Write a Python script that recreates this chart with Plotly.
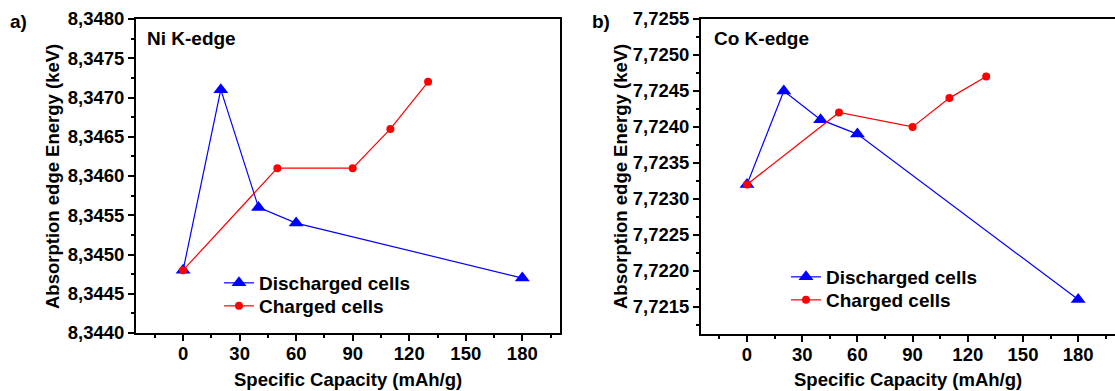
import plotly.graph_objects as go

# Data
discharged_x = [0, 20, 40, 60, 180]
charged_x = [0, 50, 90, 110, 130]

ni_discharged = [8.3448, 8.3471, 8.3456, 8.3454, 8.3447]
ni_charged = [8.3448, 8.3461, 8.3461, 8.3466, 8.3472]

co_discharged = [7.7232, 7.7245, 7.7241, 7.7239, 7.7216]
co_charged = [7.7232, 7.7242, 7.7240, 7.7244, 7.7247]

x_ticks = [0, 30, 60, 90, 120, 150, 180]

BLUE = "#0000FF"
RED = "#FF0000"
FONT = "Liberation Sans"
W, H = 1115, 391

fig = go.Figure()

def add_pair(yd, yc, xa, ya, leg_d, leg_c):
    fig.add_trace(go.Scatter(
        x=discharged_x, y=yd, mode="lines+markers", name="Discharged cells",
        line=dict(color=BLUE, width=1.2),
        marker=dict(symbol="triangle-up", size=13, color=BLUE),
        xaxis=xa, yaxis=ya, legend=leg_d, showlegend=True))
    fig.add_trace(go.Scatter(
        x=charged_x, y=yc, mode="lines+markers", name="Charged cells",
        line=dict(color=RED, width=1.2),
        marker=dict(symbol="circle", size=8, color=RED),
        xaxis=xa, yaxis=ya, legend=leg_c, showlegend=True))

add_pair(ni_discharged, ni_charged, "x", "y", "legend", "legend2")
add_pair(co_discharged, co_charged, "x2", "y2", "legend3", "legend4")

tickfont = dict(family=FONT, size=18.5, color="black", weight="bold")

def xaxis(domain, anchor):
    return dict(domain=domain, anchor=anchor, range=[-25, 200],
                tickmode="array", tickvals=x_ticks, automargin=False,
                ticks="outside", ticklen=6, tickwidth=2, tickcolor="black",
                ticklabelstandoff=-3,
                minor=dict(dtick=15, tick0=15, ticks="outside", ticklen=3,
                           tickwidth=2, tickcolor="black"),
                showline=True, linewidth=2, linecolor="black", mirror=True,
                showgrid=False, zeroline=False, tickfont=tickfont)

def yaxis(domain, anchor, rng, tick0, mirror=True):
    return dict(domain=domain, anchor=anchor, range=rng, automargin=False,
                tick0=tick0, dtick=0.0005, tickformat=".4f",
                ticks="outside", ticklen=6, tickwidth=2, tickcolor="black",
                minor=dict(dtick=0.00025, ticks="outside", ticklen=3,
                           tickwidth=2, tickcolor="black"),
                showline=True, linewidth=2, linecolor="black", mirror=mirror,
                showgrid=False, zeroline=False, tickfont=tickfont)

ydom = [(H - 333) / H, (H - 19) / H]
ydom2 = [(H - 334) / H, (H - 19) / H]

legfont = dict(family=FONT, size=19, color="black", weight="bold")

def leg(x, y):
    return dict(x=(x - 5) / W, y=(H - y) / H, xanchor="left", yanchor="middle",
                bgcolor="rgba(0,0,0,0)", font=legfont, itemwidth=30,
                borderwidth=0, visible=True)

fig.update_layout(
    width=W, height=H,
    showlegend=True,
    margin=dict(l=0, r=0, t=0, b=0, pad=0, autoexpand=False),
    paper_bgcolor="white", plot_bgcolor="white",
    separators=", ",
    xaxis=xaxis([136 / W, 560 / W], "y"),
    yaxis=yaxis(ydom, "x", [8.3440, 8.3480], 8.3440),
    xaxis2=xaxis([701 / W, 1.0], "y2"),
    yaxis2=yaxis(ydom2, "x2", [7.72112, 7.7255], 7.7215, mirror=False),
    legend=leg(224, 283),
    legend2=leg(224, 306),
    legend3=leg(791, 277),
    legend4=leg(791, 300),
)

def ann(text, x, y, angle=0, size=19):
    fig.add_annotation(text=text, x=x / W, y=(H - y) / H, xref="paper", yref="paper",
                       showarrow=False, textangle=angle,
                       font=dict(family=FONT, size=size, color="black", weight="bold"),
                       xanchor="center", yanchor="middle")

ann("a)", 18, 22)
ann("b)", 601, 22)
ann("Ni K-edge", 191, 38)
ann("Co K-edge", 761, 38)
ann("Absorption edge Energy (keV)", 52, 177, angle=-90, size=18.5)
ann("Absorption edge Energy (keV)", 620, 177, angle=-90, size=18.5)
ann("Specific Capacity (mAh/g)", 348, 379, size=18.5)
ann("Specific Capacity (mAh/g)", 908, 379, size=18.5)

fig.write_html("out.html")
